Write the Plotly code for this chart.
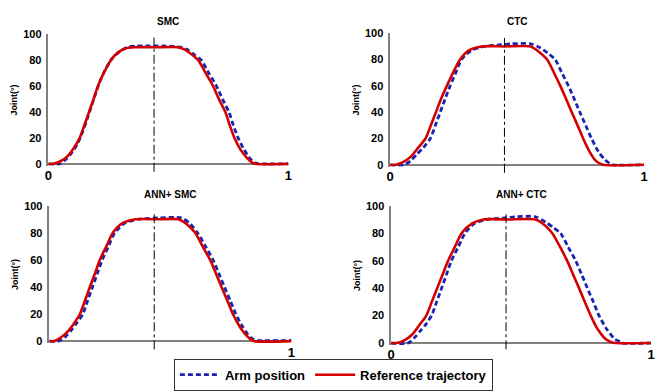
import plotly.graph_objects as go

# ---------------- data ----------------
panel_titles = ["SMC", "CTC", "ANN+ SMC", "ANN+ CTC"]
series_names = ["Arm position", "Reference trajectory"]
y_title = "Joint(°)"
y_ticks = [0, 20, 40, 60, 80, 100]
x_ticks = [[0, 1], [0, 1], [1], [0, 1]]
divider_t = [0.44, 0.45, 0.433, 0.442]

# SMC
smc_ref_t = [0, 0.02, 0.05, 0.08, 0.105, 0.13, 0.15, 0.169, 0.188, 0.206, 0.23, 0.26, 0.29, 0.32, 0.357, 0.45,
             0.54, 0.57, 0.60, 0.624, 0.655, 0.686, 0.71, 0.737, 0.755, 0.775, 0.80, 0.825, 0.845, 0.86, 1.0]
smc_ref_y = [0, 0, 2, 6, 12, 20, 30, 40, 50, 60, 70, 80, 86, 89, 90, 90,
             90, 88, 84, 80, 70, 60, 50, 40, 30, 20, 11, 5, 1.5, 0, 0]
smc_arm_t = [0, 0.045, 0.07, 0.095, 0.12, 0.143, 0.162, 0.18, 0.198, 0.215, 0.238, 0.268, 0.30, 0.33, 0.365, 0.42,
             0.48, 0.55, 0.58, 0.61, 0.637, 0.668, 0.70, 0.725, 0.752, 0.77, 0.79, 0.815, 0.84, 0.86, 0.875, 0.9, 1.0]
smc_arm_y = [0, 0, 3, 8, 15, 25, 35, 45, 55, 64, 73, 82, 87, 90, 91, 91,
             91, 90, 88, 84, 80, 70, 60, 50, 40, 30, 20, 11, 4, 1, 0, 0, 0]

# CTC
ctc_ref_t = [0, 0.022, 0.05, 0.08, 0.11, 0.139, 0.16, 0.18, 0.20, 0.223, 0.25, 0.275, 0.31, 0.36, 0.45,
             0.553, 0.585, 0.618, 0.645, 0.67, 0.693, 0.715, 0.738, 0.76, 0.785, 0.81, 0.838, 1.0]
ctc_ref_y = [0, 0, 2, 6, 13, 20, 30, 40, 50, 60, 71, 80, 87, 90, 90,
             90, 86, 80, 70, 60, 50, 40, 30, 20, 10, 3, 0, 0]
ctc_arm_t = [0, 0.054, 0.08, 0.105, 0.13, 0.158, 0.178, 0.197, 0.216, 0.236, 0.258, 0.281, 0.32, 0.37, 0.42,
             0.475, 0.553, 0.59, 0.62, 0.65, 0.676, 0.702, 0.725, 0.747, 0.77, 0.793, 0.82, 0.845, 0.865, 0.877, 1.0]
ctc_arm_y = [0, 0, 3, 8, 13, 20, 30, 40, 50, 60, 70, 80, 87, 90, 91,
             92, 92, 89, 85, 80, 70, 60, 50, 40, 30, 20, 10, 4, 1, 0, 0]

# ANN + SMC
asmc_ref_t = [0, 0.018, 0.05, 0.08, 0.105, 0.126, 0.147, 0.167, 0.188, 0.208, 0.235, 0.262, 0.30, 0.357, 0.45,
              0.534, 0.57, 0.602, 0.633, 0.664, 0.688, 0.711, 0.735, 0.758, 0.785, 0.81, 0.83, 0.846, 1.0]
asmc_ref_y = [0, 0, 3, 8, 14, 20, 30, 40, 50, 60, 70, 80, 87, 90, 90,
              90, 86, 80, 70, 60, 50, 40, 30, 20, 11, 5, 1.5, 0, 0]
asmc_arm_t = [0, 0.038, 0.065, 0.09, 0.115, 0.138, 0.158, 0.178, 0.198, 0.218, 0.244, 0.27, 0.31, 0.365, 0.45,
              0.545, 0.58, 0.612, 0.645, 0.676, 0.70, 0.723, 0.747, 0.77, 0.797, 0.82, 0.84, 0.86, 1.0]
asmc_arm_y = [0, 0, 3, 8, 14, 20, 30, 40, 50, 60, 70, 80, 87, 90, 91,
              91, 87, 80, 70, 60, 50, 40, 30, 20, 11, 5, 1.5, 0.5, 0.5]

# ANN + CTC
actc_ref_t = [0, 0.02, 0.05, 0.08, 0.108, 0.135, 0.156, 0.177, 0.198, 0.219, 0.245, 0.271, 0.31, 0.355, 0.45,
              0.555, 0.59, 0.62, 0.65, 0.677, 0.70, 0.723, 0.745, 0.768, 0.795, 0.825, 0.85, 0.865, 1.0]
actc_ref_y = [0, 0, 2, 6, 13, 20, 30, 40, 50, 60, 70, 80, 87, 90, 90,
              90, 86, 80, 70, 60, 50, 40, 30, 20, 10, 3, 0.5, 0, 0]
actc_arm_t = [0, 0.065, 0.09, 0.113, 0.135, 0.155, 0.175, 0.194, 0.213, 0.232, 0.258, 0.284, 0.32, 0.368, 0.43,
              0.48, 0.555, 0.595, 0.625, 0.652, 0.681, 0.71, 0.733, 0.755, 0.778, 0.80, 0.83, 0.86, 0.88, 0.89, 1.0]
actc_arm_y = [0, 0, 4, 9, 14, 20, 30, 40, 50, 60, 70, 80, 87, 90, 91,
              92, 92, 88, 84, 80, 70, 60, 50, 40, 30, 20, 10, 3, 1, 0, 0]

arm_t = [smc_arm_t, ctc_arm_t, asmc_arm_t, actc_arm_t]
arm_y = [smc_arm_y, ctc_arm_y, asmc_arm_y, actc_arm_y]
ref_t = [smc_ref_t, ctc_ref_t, asmc_ref_t, actc_ref_t]
ref_y = [smc_ref_y, ctc_ref_y, asmc_ref_y, actc_ref_y]

# ---------------- layout / styling ----------------
W, H = 655, 391
FONT = "Arial, 'Liberation Sans', sans-serif"
BLUE = "#1a24b0"
RED = "#d40000"
AXIS = "#808080"

# pixel boxes: (x_left, x_right, y_bottom, y_top) of each plot area
boxes = [(45, 288, 164, 29), (391, 648, 165, 28), (46, 291, 346, 205), (392, 655, 348, 205)]
title_px = [16, 16, 193, 193]
div_ext = [(-0.045, 0.975), (-0.045, 0.965), (-0.045, 0.94), (-0.03, 0.94)]

fig = go.Figure()
layout = dict(
    width=W, height=H, margin=dict(l=0, r=0, t=0, b=0),
    paper_bgcolor="white", plot_bgcolor="white",
    font=dict(family=FONT, color="black"),
    showlegend=True,
    legend=dict(orientation="h", x=172 / W, xanchor="left", y=1 - 362 / H, yanchor="top",
                bordercolor="#333333", borderwidth=1, bgcolor="white",
                font=dict(size=13, family=FONT, weight="bold"),
                itemwidth=40, tracegroupgap=0),
    shapes=[], annotations=[],
)

for i in range(4):
    k = "" if i == 0 else str(i + 1)
    xl, xr, yb, yt = boxes[i]
    xa = dict(domain=[xl / W, min(xr / W, 1.0)], range=[0, 1], showgrid=False, zeroline=False, showline=False,
              tickvals=x_ticks[i], ticktext=[str(v) for v in x_ticks[i]], ticks="",
              tickfont=dict(size=13, family=FONT, weight="bold", color="black"),
              anchor="y" + k, fixedrange=True)
    ya = dict(domain=[1 - yb / H, 1 - yt / H], range=[-1.5, 100], showgrid=False,
              zeroline=True, zerolinecolor=AXIS, zerolinewidth=1.5,
              showline=True, linecolor=AXIS, linewidth=1.5,
              tickvals=y_ticks, ticks="", ticklabelstandoff=3,
              tickfont=dict(size=11, family=FONT, weight="bold", color="black"),
              title=dict(text=y_title, font=dict(size=9, family=FONT, weight="bold"), standoff=4),
              anchor="x" + k, fixedrange=True)
    layout["xaxis" + k] = xa
    layout["yaxis" + k] = ya

    fig.add_trace(go.Scatter(x=arm_t[i], y=arm_y[i], mode="lines", name=series_names[0],
                             line=dict(color=BLUE, width=2.8, dash="5px,3px", shape="spline", smoothing=0.7),
                             xaxis="x" + k, yaxis="y" + k, showlegend=(i == 0), legendrank=1))
    fig.add_trace(go.Scatter(x=ref_t[i], y=ref_y[i], mode="lines", name=series_names[1],
                             line=dict(color=RED, width=2.6, shape="spline", smoothing=0.7),
                             xaxis="x" + k, yaxis="y" + k, showlegend=(i == 0), legendrank=2))

    layout["shapes"].append(dict(type="line", xref="x" + k, yref="y" + k + " domain",
                                 x0=divider_t[i], x1=divider_t[i], y0=div_ext[i][0], y1=div_ext[i][1],
                                 line=dict(color="black", width=1, dash="dashdot")))
    layout["annotations"].append(dict(text=panel_titles[i], xref="x" + k + " domain", yref="paper",
                                      x=0.5, y=1 - title_px[i] / H, xanchor="center", yanchor="middle",
                                      showarrow=False,
                                      font=dict(size=10, family=FONT, weight="bold", color="black")))

fig.update_layout(**layout)
fig.write_html("out.html")
